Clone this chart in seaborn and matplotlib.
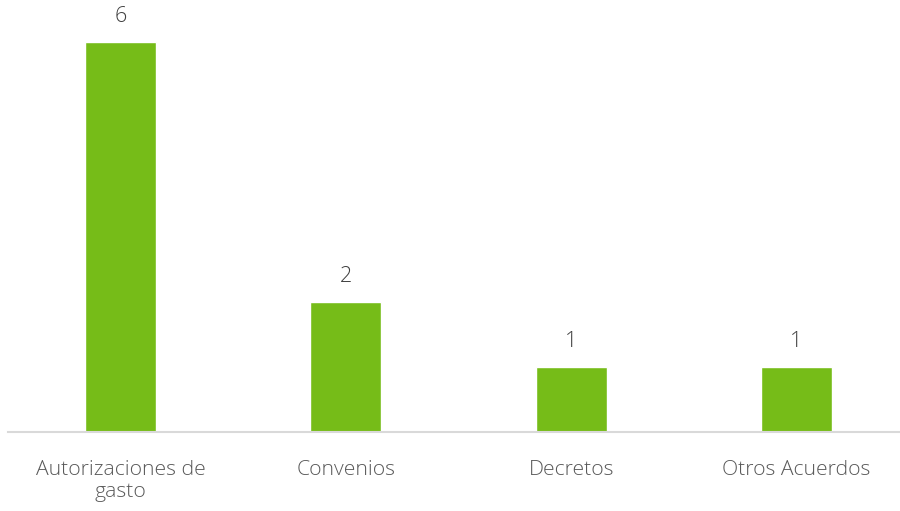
import matplotlib
matplotlib.use("Agg")
import pandas as pd
import seaborn as sns
import matplotlib.pyplot as plt

categories = ["Autorizaciones de\ngasto", "Convenios", "Decretos", "Otros Acuerdos"]
counts = [6, 2, 1, 1]

df = pd.DataFrame({"categoria": categories, "n": counts})

sns.set_style("white")
plt.rcParams["font.family"] = ["Open Sans", "DejaVu Sans"]

fig = plt.figure(figsize=(9, 5.11), dpi=100)
ax = fig.add_axes([8 / 900, 79 / 511, 892 / 900, 432 / 511])

sns.barplot(data=df, x="categoria", y="n", color="#76BC18", saturation=1, width=0.315, ax=ax)

ax.set_xlim(-0.5, 3.46)
ax.set_ylim(0, 432 / 65)

for i, v in enumerate(counts):
    ax.annotate(str(v), (i, v), xytext=(0, 15), textcoords="offset pixels",
                ha="center", va="bottom", fontsize=15.5, color="#404040", fontweight="light")

ax.set_xlabel("")
ax.set_ylabel("")
ax.set_yticks([])
ax.tick_params(axis="x", length=0, pad=20, labelsize=15.2, labelcolor="#595959")
for lab in ax.get_xticklabels():
    lab.set_fontweight("light")
    lab.set_linespacing(1.15)

for s in ["top", "right", "left"]:
    ax.spines[s].set_visible(False)
ax.spines["bottom"].set_color("#D9D9D9")
ax.spines["bottom"].set_linewidth(1.5)

fig.savefig("out.png", dpi=100)
